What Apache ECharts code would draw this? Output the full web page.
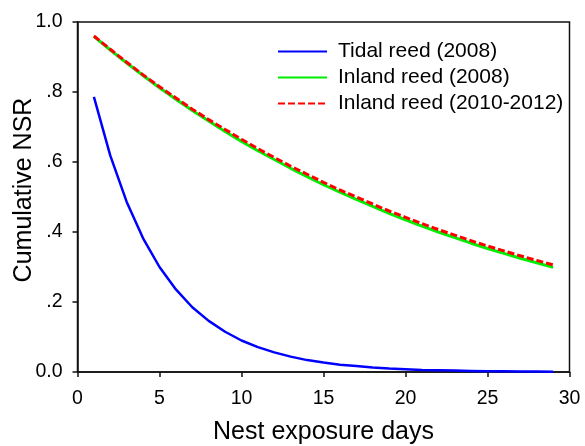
<!DOCTYPE html>
<html>
<head>
<meta charset="utf-8">
<script src="https://cdn.jsdelivr.net/npm/echarts@6/dist/echarts.min.js"></script>
<style>html,body{margin:0;padding:0;background:#fff}#c{width:585px;height:446px}</style>
</head>
<body>
<div id="c"></div>
<script>
const days = [1,2,3,4,5,6,7,8,9,10,11,12,13,14,15,16,17,18,19,20,21,22,23,24,25,26,27,28,29];
const tidal2008 = [0.786,0.618,0.486,0.382,0.300,0.236,0.185,0.146,0.115,0.090,0.071,0.056,0.044,0.034,0.027,0.021,0.017,0.013,0.010,0.008,0.006,0.005,0.004,0.003,0.002,0.002,0.0015,0.0012,0.0009];
const inland2008 = [0.959,0.920,0.883,0.847,0.812,0.779,0.747,0.717,0.687,0.659,0.632,0.607,0.582,0.558,0.535,0.514,0.493,0.473,0.453,0.435,0.417,0.400,0.384,0.368,0.353,0.339,0.325,0.312,0.299];
const inland20102012 = [0.960,0.922,0.885,0.849,0.815,0.783,0.751,0.721,0.693,0.665,0.638,0.613,0.588,0.565,0.542,0.520,0.500,0.480,0.460,0.442,0.424,0.407,0.391,0.375,0.360,0.346,0.332,0.319,0.306];
const seriesNames = ['Tidal reed (2008)','Inland reed (2008)','Inland reed (2010-2012)'];
const yTickLabels = {0:'0.0',0.2:'.2',0.4:'.4',0.6:'.6',0.8:'.8',1:'1.0'};

const font = '"Liberation Sans", Arial, sans-serif';
const pair = a => days.map((d,i)=>[d,a[i]]);
const chart = echarts.init(document.getElementById('c'));
chart.setOption({
  animation:false,
  backgroundColor:'#fff',
  grid:{left:77.5,right:15.5,top:22,bottom:74,show:true,borderColor:'#111',borderWidth:1.5,backgroundColor:'transparent',
        containLabel:false,outerBoundsMode:'none'},
  legend:{
    orient:'vertical', left:272, top:36, itemWidth:49, itemHeight:14, itemGap:5,
    itemStyle:{opacity:0},
    textStyle:{fontFamily:font,fontSize:21,color:'#000',padding:[0,0,0,6]},
    data:seriesNames
  },
  xAxis:{
    type:'value', min:0, max:30, interval:5,
    name:'Nest exposure days', nameLocation:'middle', nameGap:48,
    nameTextStyle:{fontFamily:font,fontSize:25,color:'#000'},
    axisLine:{lineStyle:{color:'#111',width:1.5}},
    axisTick:{show:true,inside:false,length:5,lineStyle:{color:'#111',width:1.5}},
    axisLabel:{fontFamily:font,fontSize:19.5,color:'#000',margin:17},
    splitLine:{show:false}
  },
  yAxis:{
    type:'value', min:0, max:1, interval:0.2,
    axisLine:{show:true,lineStyle:{color:'#111',width:1.5}},
    axisTick:{show:true,inside:false,length:5,lineStyle:{color:'#111',width:1.5}},
    axisLabel:{fontFamily:font,fontSize:19.5,color:'#000',margin:15,
      formatter:v=>{const k=Math.round(v*10)/10;return yTickLabels[k]!==undefined?yTickLabels[k]:String(v);}},
    splitLine:{show:false}
  },
  graphic:[{
    type:'text', x:24, y:190, rotation:Math.PI/2, originX:0, originY:0,
    style:{text:'Cumulative NSR',fontFamily:font,fontSize:25,fill:'#000',align:'center',verticalAlign:'middle'}
  }],
  series:[
    {name:seriesNames[0],type:'line',data:pair(tidal2008),showSymbol:false,symbol:'none',
     lineStyle:{color:'#0000ff',width:2.5},itemStyle:{color:'#0000ff'},z:2},
    {name:seriesNames[1],type:'line',data:pair(inland2008),showSymbol:false,symbol:'none',
     lineStyle:{color:'#00ee00',width:3},itemStyle:{color:'#00ee00'},z:3},
    {name:seriesNames[2],type:'line',data:pair(inland20102012),showSymbol:false,symbol:'none',
     lineStyle:{color:'#ff0000',width:3,type:[7,3]},itemStyle:{color:'#ff0000'},z:4}
  ]
});
</script>
</body>
</html>
